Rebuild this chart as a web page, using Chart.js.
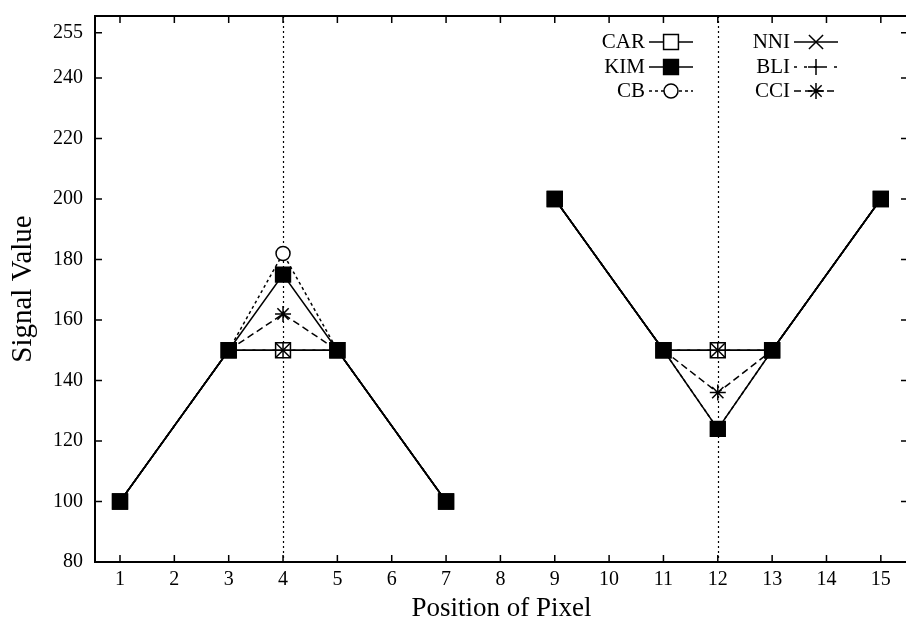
<!DOCTYPE html>
<html><head><meta charset="utf-8">
<script src="https://cdn.jsdelivr.net/npm/chart.js@4.4.0/dist/chart.umd.min.js"></script>
<style>html,body{margin:0;padding:0;background:#fff;overflow:hidden}#wrap{width:920px;height:627px;position:relative}</style>
</head><body><div id="wrap"><canvas id="c"></canvas></div>
<script>
// ---- data ----
const positions = [1, 3, 4, 5, 7, 8, 9, 11, 12, 13, 15];
const interpPositions = [4, 12];
const car = [100, 150, 150, 150, 100, null, 200, 150, 150, 150, 200];
const kim = [100, 150, 175, 150, 100, null, 200, 150, 124, 150, 200];
const cb  = [100, 150, 182, 150, 100, null, 200, 150, 124, 150, 200];
const nni = [100, 150, 150, 150, 100, null, 200, 150, 150, 150, 200];
const bli = [100, 150, 150, 150, 100, null, 200, 150, 150, 150, 200];
const cci = [100, 150, 162, 150, 100, null, 200, 150, 136, 150, 200];
const xTicks = [1,2,3,4,5,6,7,8,9,10,11,12,13,14,15];
const yTicks = [80,100,120,140,160,180,200,220,240,255];
const seriesNames = ['CAR','KIM','CB','NNI','BLI','CCI'];

const SERIF = "'Liberation Serif','Times New Roman',serif";
const pts = vals => positions.map((p, i) => ({x: p, y: vals[i]}));
const onlyInterp = r => ctx => (ctx.raw && interpPositions.includes(ctx.raw.x)) ? r : 0;

const datasets = [
  {label: seriesNames[0], data: pts(car), pointStyle: 'rect', pointRadius: 10.5, pointBackgroundColor: '#fff', borderDash: [], order: 5, legendCol: 0, legendRow: 0},
  {label: seriesNames[1], data: pts(kim), pointStyle: 'rect', pointRadius: 10.5, pointBackgroundColor: '#000', borderDash: [], order: 3, legendCol: 0, legendRow: 1},
  {label: seriesNames[2], data: pts(cb), pointStyle: 'circle', pointRadius: onlyInterp(7), legendRadius: 7, pointBackgroundColor: '#fff', borderDash: [3, 3], order: 4, legendCol: 0, legendRow: 2},
  {label: seriesNames[3], data: pts(nni), pointStyle: 'crossRot', pointRadius: onlyInterp(10), legendRadius: 10, pointBackgroundColor: '#000', borderDash: [], order: 0, legendCol: 1, legendRow: 0},
  {label: seriesNames[4], data: pts(bli), pointStyle: 'cross', pointRadius: onlyInterp(8), legendRadius: 8, pointBackgroundColor: '#000', borderDash: [3, 7], order: 1, legendCol: 1, legendRow: 1},
  {label: seriesNames[5], data: pts(cci), pointStyle: 'star', pointRadius: onlyInterp(8), legendRadius: 8, pointBackgroundColor: '#000', borderDash: [7, 4], order: 2, legendCol: 1, legendRow: 2}
].map(d => Object.assign({borderColor: '#000', pointBorderColor: '#000', borderWidth: 1.5, pointBorderWidth: 1.5, tension: 0, spanGaps: false, pointHoverRadius: 0}, d));

const framePlugin = {
  id: 'frame',
  beforeDatasetsDraw(chart) {
    const {ctx, chartArea: a, scales: {x}} = chart;
    ctx.save();
    ctx.strokeStyle = '#000'; ctx.lineWidth = 1.2; ctx.setLineDash([2, 3]);
    interpPositions.forEach(p => {
      const px = Math.round(x.getPixelForValue(p)) + 0.5;
      ctx.beginPath(); ctx.moveTo(px, a.top); ctx.lineTo(px, a.bottom); ctx.stroke();
    });
    ctx.restore();
  },
  afterDraw(chart) {
    const {ctx, chartArea: a, scales: {x, y}} = chart;
    ctx.save();
    ctx.strokeStyle = '#000'; ctx.lineWidth = 2; ctx.setLineDash([]);
    ctx.strokeRect(a.left, a.top, a.right - a.left, a.bottom - a.top);
    ctx.lineWidth = 1.5;
    const tl = 7;
    xTicks.forEach(v => {
      const px = x.getPixelForValue(v);
      ctx.beginPath(); ctx.moveTo(px, a.bottom); ctx.lineTo(px, a.bottom - tl);
      ctx.moveTo(px, a.top); ctx.lineTo(px, a.top + tl); ctx.stroke();
    });
    yTicks.forEach(v => {
      const py = y.getPixelForValue(v);
      ctx.beginPath(); ctx.moveTo(a.left, py); ctx.lineTo(a.left + tl, py);
      ctx.moveTo(a.right, py); ctx.lineTo(a.right - tl, py); ctx.stroke();
    });
    // legend
    const colTextRight = [645, 790];
    const rowY = [42, 67, 91];
    ctx.font = '21px ' + SERIF;
    ctx.textAlign = 'right'; ctx.textBaseline = 'middle'; ctx.fillStyle = '#000';
    chart.data.datasets.forEach(ds => {
      const tx = colTextRight[ds.legendCol], ty = rowY[ds.legendRow];
      ctx.fillText(ds.label, tx, ty);
      ctx.save();
      ctx.setLineDash(ds.borderDash || []); ctx.lineWidth = 1.5;
      ctx.beginPath(); ctx.moveTo(tx + 4, ty); ctx.lineTo(tx + 48, ty); ctx.stroke();
      ctx.restore();
      ctx.save();
      ctx.setLineDash([]);
      ctx.fillStyle = ds.pointBackgroundColor; ctx.strokeStyle = '#000'; ctx.lineWidth = 1.5;
      const r = ds.legendRadius || ds.pointRadius;
      Chart.helpers.drawPoint(ctx, {pointStyle: ds.pointStyle, radius: r, rotation: 0, borderWidth: 1.5}, tx + 26, ty);
      ctx.restore();
    });
    ctx.restore();
  }
};

new Chart(document.getElementById('c'), {
  type: 'line',
  data: {datasets},
  options: {
    responsive: true, maintainAspectRatio: false, animation: false,
    layout: {padding: {left: 0, right: 10, top: 16, bottom: 0}},
    plugins: {legend: {display: false}, tooltip: {enabled: false}},
    events: [],
    scales: {
      x: {
        type: 'linear', min: 0.54, max: 15.5,
        afterBuildTicks: s => { s.ticks = xTicks.map(v => ({value: v})); },
        afterFit: s => { s.height = 65; s.paddingLeft = 0; s.paddingRight = 0; },
        grid: {display: false, drawTicks: false},
        border: {display: false},
        ticks: {font: {family: SERIF, size: 20}, color: '#000', padding: 6, maxRotation: 0, autoSkip: false},
        title: {display: true, text: 'Position of Pixel', font: {family: SERIF, size: 27}, color: '#000', padding: {top: 0, bottom: 2}}
      },
      y: {
        type: 'linear', min: 80, max: 260.5,
        afterBuildTicks: s => { s.ticks = yTicks.map(v => ({value: v})); },
        afterFit: s => { s.width = 95; s.paddingTop = 0; s.paddingBottom = 0; },
        grid: {display: false, drawTicks: false},
        border: {display: false},
        ticks: {font: {family: SERIF, size: 20}, color: '#000', padding: 12, autoSkip: false},
        title: {display: true, text: 'Signal Value', font: {family: SERIF, size: 29}, color: '#000', padding: {top: 6, bottom: 4}}
      }
    }
  },
  plugins: [framePlugin]
});
</script>
</body></html>
